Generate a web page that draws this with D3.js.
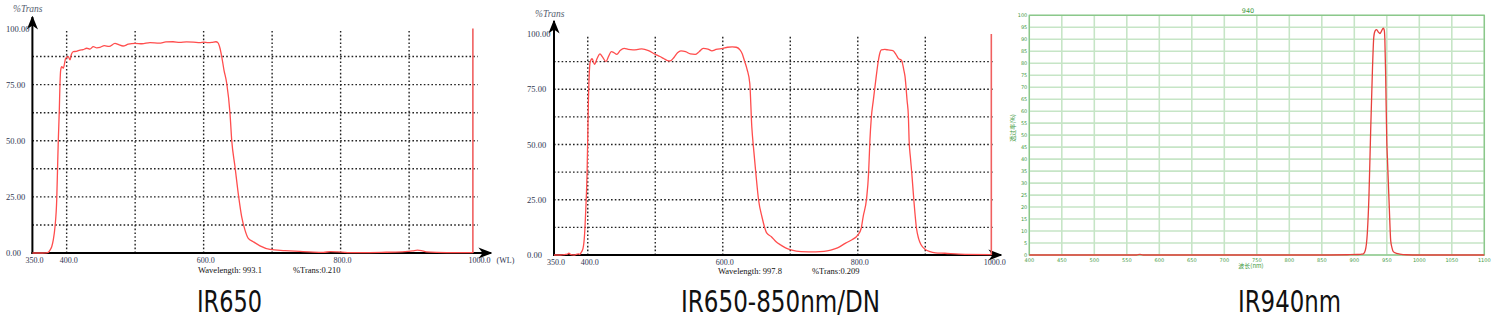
<!DOCTYPE html>
<html><head><meta charset="utf-8">
<script src="https://cdn.jsdelivr.net/npm/d3@7"></script>
<style>html,body{margin:0;padding:0;background:#fff;overflow:hidden}</style>
</head><body><svg id="c" width="1500" height="330"></svg>
<script>
// ---------- DATA ----------
const titles = ["IR650", "IR650-850nm/DN", "IR940nm"];
const spectroXTicks = [350, 400, 600, 800, 1000];
const spectroYTicks = [0, 25, 50, 75, 100];
const spectroXGrid = [400, 500, 600, 700, 800, 900];
const spectroYGrid = [12.5, 25, 37.5, 50, 62.5, 75, 87.5];

// IR650
const wl1 = [350,360,370,373,375.7,378.2,380.5,383,385.5,387,387.8,389.3,390.3,391.3,392.8,395.1,398.6,402.4,404.9,407,409.7,414,419.5,424,429.3,434,438.9,444,448.7,455,462,470.6,476,482.3,490,499.8,510,521.7,535,545,555.3,565,575,585,594.7,600,606.4,612,618,621,623.9,626.4,629.7,633.7,638.5,641,645.8,651.2,655.5,660.4,665.2,672.5,682.3,696.9,718.8,740.7,760,775,785,795,810,830,860,890,905,912,918,925,940,970,993.1];
const tr1 = [0,0,0.1,0.3,1.3,2.8,5.8,11.7,23.6,41,50,63.7,75.6,81.5,83,82.3,86.7,87.5,86,88.5,89.7,89.8,90.4,90.6,91.2,90.8,91.9,91.4,91.6,92.4,92.0,93.4,92.8,92.2,93.0,93.4,93.2,93.7,93.5,94.0,94.1,93.8,94.0,93.9,93.7,93.9,93.7,93.8,94.1,93.6,91.2,87.5,81.5,75.6,62.2,50.3,38.4,25,16.2,10.2,6.5,5,3.2,1.6,1.1,0.7,0.4,0.3,0.6,0.5,0.2,0.2,0.3,0.5,0.9,1.3,1.1,0.5,0.3,0.2,0.2];
const cursor1 = {wl: "993.1", tr: "0.210", x: 993.1};

// IR650-850nm/DN
const wl2 = [350,360,366,370,372,375,380,386,388,390,393,395,397,399,401,403.4,406.4,410,414,418,422,427,431,435,439,443,448,454,460,467,474,480,490,500,507,513,518,522,528,533,538,545,552,559,565,571,578,584,590,600,607,614,620,625,629,632,636,640,643,646,649,653,658,665,672,679,686,693,701,716,738,750,760,770,782,792,800,805,808,813,816,818,820,823,827,830,832,835,840,845,852,857,860,865,868,870,873,875,876,878,880,883,887,890,894,900,907,915,929,950,997.8];
const tr2 = [0,0,0.2,0.4,0.8,0.2,0,0.5,0.3,1,3,8,20,37,70,87,88.8,86.3,89,91,89.5,87.5,90,92,91.5,90.8,92.5,93.5,93,92.8,93,93.3,92.5,90.8,89.8,88.8,88,87.8,89.5,91.5,92.4,92,91,90.8,92,93.5,93.2,92.4,93,93.5,94,94.2,94,93,91,88,84,77.7,58,47,37,25,17.3,10,8.3,6,4.5,3.2,2.3,1.5,1.4,1.6,2.2,3.2,5.4,7,9,12,17.4,25.5,37,52,62,70,80,87,90.5,92.8,93,92.8,92.5,90.5,89,88,84,80.7,70,62.6,52,44,37,25,12,7.5,4.5,2.5,1.5,1,0.8,0.4,0.2];
const cursor2 = {wl: "997.8", tr: "0.209", x: 997.8};

// IR940nm
const wl3 = [400,450,500,550,565,570,575,600,700,800,850,890,905,910,914,917,920,922.6,925,928,930,932,934.4,937,939.5,942,944.6,946,947,948.3,950,951,953.8,956,958,960,965,970,980,1000,1100];
const tr3 = [0,0,0,0,0,0.3,0,0,0,0,0,0.1,0.2,0.3,0.5,2,9,25,50,78,91,93.5,94,93,92.4,93.5,94.6,93.9,90,74,47,40,20,6,3,1.4,0.7,0.4,0.1,0,0];
const gXTicks = d3.range(400, 1101, 50);
const gYTicks = d3.range(0, 101, 5);
const gTitle = "940";
const gXTitle = "波长(nm)";
const gYTitle = "透过率(%)";

// ---------- DRAW ----------
const svg = d3.select("#c");
svg.append("rect").attr("width",1500).attr("height",330).attr("fill","#fff");
const defs = svg.append("defs");
defs.append("marker").attr("id","arr").attr("viewBox","0 0 10 10").attr("refX",9).attr("refY",5)
  .attr("markerWidth",7).attr("markerHeight",7).attr("orient","auto-start-reverse")
  .append("path").attr("d","M0,1 L10,5 L0,9 L3,5 Z").attr("fill","#000");

const serif = "'Liberation Serif','DejaVu Serif',serif";
const labelCol = "#2e3550";

function spectro(cfg){
  const g = svg.append("g");
  const x = d3.scaleLinear().domain([350,1000]).range(cfg.xr);
  const y = d3.scaleLinear().domain([0,100]).range(cfg.yr);
  g.selectAll(".hg").data(spectroYGrid).join("line")
    .attr("x1",x(350)).attr("x2",x(1000)).attr("y1",d=>y(d)).attr("y2",d=>y(d))
    .attr("stroke","#222").attr("stroke-width",1.4).attr("stroke-dasharray","1.6,2.2");
  g.selectAll(".vg").data(spectroXGrid).join("line")
    .attr("x1",d=>x(d)).attr("x2",d=>x(d)).attr("y1",y(0)).attr("y2",y(100)+0.5)
    .attr("stroke","#222").attr("stroke-width",1.4).attr("stroke-dasharray","1.6,2.2");
  g.append("line").attr("x1",x(350)).attr("x2",x(350)).attr("y1",y(0)+1).attr("y2",cfg.yTop)
    .attr("stroke","#000").attr("stroke-width",2).attr("marker-end","url(#arr)");
  g.append("line").attr("x1",x(350)-1).attr("x2",cfg.xEnd).attr("y1",y(0)).attr("y2",y(0))
    .attr("stroke","#000").attr("stroke-width",2).attr("marker-end","url(#arr)");
  g.append("line").attr("x1",x(cfg.cursor.x)).attr("x2",x(cfg.cursor.x)).attr("y1",y(0)).attr("y2",y(100))
    .attr("stroke","#f06060").attr("stroke-width",1.6);
  const pts = cfg.wl.map((w,i)=>[w,cfg.tr[i]]);
  g.append("path").datum(pts).attr("fill","none").attr("stroke","#ff4d4d").attr("stroke-width",1.3)
    .attr("d", d3.line().x(d=>x(d[0])).y(d=>y(d[1])).curve(d3.curveMonotoneX));
  g.selectAll(".yl").data(spectroYTicks).join("text")
    .attr("x",cfg.yLabX).attr("y",d=>y(d)+3).text(d=>d3.format(".2f")(d))
    .attr("font-family",serif).attr("font-size",8.5).attr("fill",labelCol);
  g.selectAll(".xl").data(spectroXTicks).join("text")
    .attr("x",d=>x(d)+2).attr("y",y(0)+10).attr("text-anchor","middle").text(d=>d3.format(".1f")(d))
    .attr("font-family",serif).attr("font-size",8).attr("fill",labelCol);
  g.append("text").attr("x",cfg.tLab[0]).attr("y",cfg.tLab[1]).text("%Trans")
    .attr("font-family",serif).attr("font-style","italic").attr("font-size",9.5).attr("fill","#556070");
  if(cfg.wlUnit) g.append("text").attr("x",x(1000)+19).attr("y",y(0)+10).text("(WL)")
    .attr("font-family",serif).attr("font-size",8).attr("fill",labelCol);
  g.append("text").attr("x",cfg.rd[0]).attr("y",cfg.rd[1]).text("Wavelength: "+cfg.cursor.wl)
    .attr("font-family",serif).attr("font-size",8.5).attr("fill","#111");
  g.append("text").attr("x",cfg.rd[2]).attr("y",cfg.rd[1]).text("%Trans:"+cfg.cursor.tr)
    .attr("font-family",serif).attr("font-size",8.5).attr("fill","#111");
}

spectro({xr:[32.4,477.6], yr:[253,28.5], yTop:17, xEnd:491, cursor:cursor1, wl:wl1, tr:tr1,
  yLabX:6, tLab:[13,12], wlUnit:true, rd:[198,272.5,293]});
spectro({xr:[554,992.8], yr:[255,34], yTop:21, xEnd:1001, cursor:cursor2, wl:wl2, tr:tr2,
  yLabX:527, tLab:[535,17], wlUnit:false, rd:[718,274,812]});

// ---------- green panel ----------
(function(){
  const g = svg.append("g");
  const x = d3.scaleLinear().domain([400,1100]).range([1029.3,1484.3]);
  const y = d3.scaleLinear().domain([0,100]).range([255,15.3]);
  const gc = "#c6e5c6", ac = "#88c788", tc = "#3f9a3f";
  g.selectAll(".hg").data(gYTicks).join("line")
    .attr("x1",x(400)).attr("x2",x(1100)).attr("y1",d=>y(d)).attr("y2",d=>y(d))
    .attr("stroke",gc).attr("stroke-width",1.6);
  g.selectAll(".vg").data(gXTicks).join("line")
    .attr("x1",d=>x(d)).attr("x2",d=>x(d)).attr("y1",y(0)).attr("y2",y(100))
    .attr("stroke",gc).attr("stroke-width",1.6);
  g.append("rect").attr("x",x(400)).attr("y",y(100)).attr("width",x(1100)-x(400)).attr("height",y(0)-y(100))
    .attr("fill","none").attr("stroke",ac).attr("stroke-width",1.3);
  const pts = wl3.map((w,i)=>[w,tr3[i]]);
  g.append("path").datum(pts).attr("fill","none").attr("stroke","#e8403c").attr("stroke-width",1.3)
    .attr("d", d3.line().x(d=>x(d[0])).y(d=>y(d[1])).curve(d3.curveMonotoneX));
  g.selectAll(".yl").data(gYTicks).join("text")
    .attr("x",x(400)-2).attr("y",d=>y(d)+2).attr("text-anchor","end").text(d=>d)
    .attr("font-family","'DejaVu Sans',sans-serif").attr("font-size",5).attr("fill",tc);
  g.selectAll(".xl").data(gXTicks).join("text")
    .attr("x",d=>x(d)).attr("y",y(0)+7).attr("text-anchor","middle").text(d=>d)
    .attr("font-family","'DejaVu Sans',sans-serif").attr("font-size",5).attr("fill",tc);
  g.append("text").attr("x",1248).attr("y",13).attr("text-anchor","middle").text(gTitle)
    .attr("font-family","'DejaVu Sans',sans-serif").attr("font-size",6.5).attr("fill",tc);
  g.append("text").attr("x",1251).attr("y",268).attr("text-anchor","middle").text(gXTitle)
    .attr("font-family","'Noto Sans CJK SC',sans-serif").attr("font-size",6).attr("fill",tc);
  g.append("text").attr("transform","translate(1015,128) rotate(-90)").attr("text-anchor","middle").text(gYTitle)
    .attr("font-family","'Noto Sans CJK SC',sans-serif").attr("font-size",6).attr("fill",tc);
})();

// ---------- titles ----------
const titlePos = [[197,262],[681,880],[1238,1341]];
svg.selectAll(".ttl").data(titles).join("text")
  .attr("x",(d,i)=>titlePos[i][0]).attr("y",312).text(d=>d)
  .attr("textLength",(d,i)=>titlePos[i][1]-titlePos[i][0]).attr("lengthAdjust","spacingAndGlyphs")
  .attr("font-family","'DejaVu Sans Condensed','Open Sans','Noto Sans',sans-serif")
  .attr("font-size",30).attr("fill","#111");
</script></body></html>
